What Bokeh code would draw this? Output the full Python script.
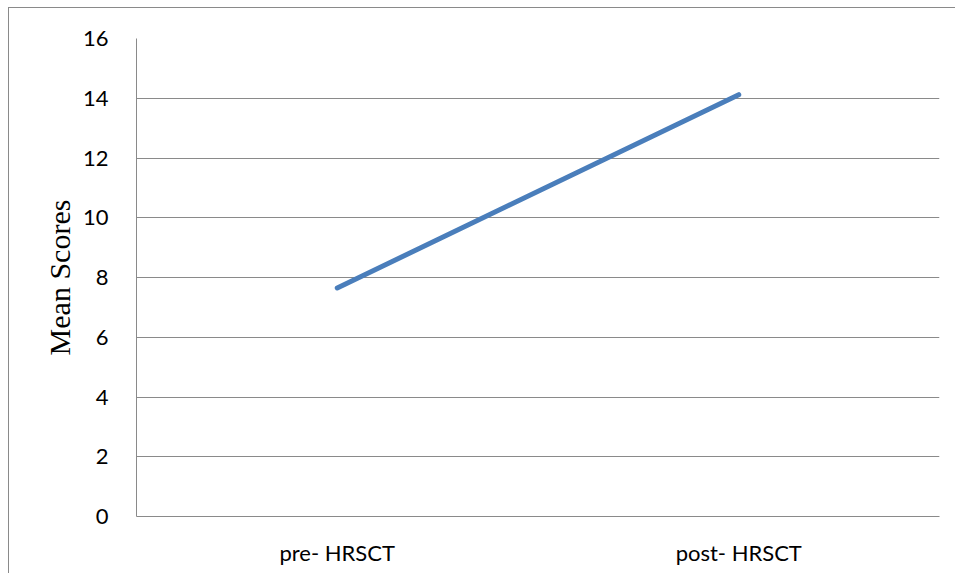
from bokeh.plotting import figure
from bokeh.models import FactorRange, Range1d, FixedTicker, ColumnDataSource
from bokeh.embed import file_html
from bokeh.resources import INLINE

categories = ["pre- HRSCT", "post- HRSCT"]
mean_scores = [7.65, 14.12]
y_ticks = [0, 2, 4, 6, 8, 10, 12, 14, 16]

src = ColumnDataSource(dict(x=categories, y=mean_scores))

p = figure(
    x_range=FactorRange(*categories),
    y_range=Range1d(0, 16),
    width=955, height=573,
    output_backend="svg", toolbar_location=None,
    min_border_left=136, min_border_top=38,
    min_border_right=16, min_border_bottom=57,
)
p.outline_line_color = None
p.background_fill_color = "white"
p.border_fill_color = None
# outer chart-area border: left and top edges (right/bottom run off the picture)
p.styles = {
    "background": (
        "linear-gradient(#8a8a8a, #8a8a8a) 8px 7px / 1px 100% no-repeat, "
        "linear-gradient(#8a8a8a, #8a8a8a) 8px 7px / 100% 1px no-repeat, white"
    )
}

p.line(x="x", y="y", source=src, line_color="#4A7EBB", line_width=5, line_cap="round")

grid_col = "#8a8a8a"
p.xgrid.grid_line_color = None
p.ygrid.grid_line_color = grid_col
p.ygrid.grid_line_width = 1
p.yaxis.ticker = FixedTicker(ticks=y_ticks)

for ax in (p.xaxis[0], p.yaxis[0]):
    ax.axis_line_color = grid_col
    ax.major_tick_line_color = None
    ax.minor_tick_line_color = None
    ax.major_label_text_font = "Lato"
    ax.major_label_text_font_size = "22px"
    ax.major_label_text_color = "black"

p.yaxis.major_label_standoff = 22
p.xaxis.major_label_standoff = 16
p.yaxis.axis_label = "Mean Scores"
p.yaxis.axis_label_text_font = "Liberation Serif"
p.yaxis.axis_label_text_font_style = "normal"
p.yaxis.axis_label_text_font_size = "30px"
p.yaxis.axis_label_text_color = "black"
p.yaxis.axis_label_standoff = 4

open("out.html", "w").write(file_html(p, INLINE))
